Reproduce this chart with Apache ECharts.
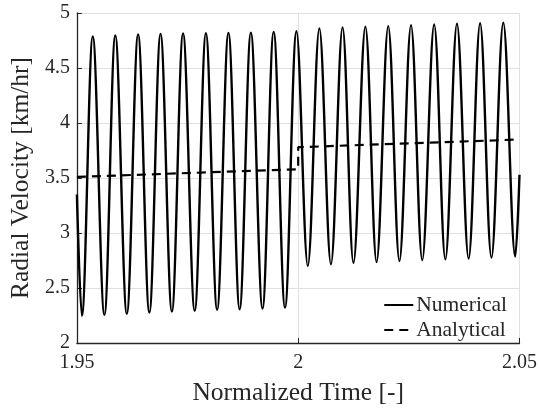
<!DOCTYPE html>
<html>
<head>
<meta charset="utf-8">
<script src="https://cdn.jsdelivr.net/npm/echarts@6/dist/echarts.min.js"></script>
<style>html,body{margin:0;padding:0;background:#fff}#c{width:540px;height:411px}</style>
</head>
<body>
<div id="c"></div>
<script>
// Values
var startPoint = [1.95, 3.35];
var endPoint = [2.05, 3.53];
var peakTimes = [1.95359, 1.95868, 1.96383, 1.96890, 1.97399, 1.97915, 1.98424, 1.98931, 1.99446, 1.99962,
                 2.00478, 2.01002, 2.01518, 2.02034, 2.02549, 2.03072, 2.03587, 2.04110, 2.04634];
var peakValues = [4.786, 4.795, 4.804, 4.810, 4.813, 4.816, 4.819, 4.822, 4.828, 4.834,
                  4.860, 4.869, 4.875, 4.881, 4.890, 4.896, 4.902, 4.907, 4.911];
var troughTimes = [1.95112, 1.95621, 1.96128, 1.96637, 1.97146, 1.97661, 1.98168, 1.98677, 1.99193, 1.99702,
                   2.00217, 2.00740, 2.01249, 2.01771, 2.02287, 2.02803, 2.03325, 2.03850, 2.04366, 2.04904];
var troughValues = [2.248, 2.256, 2.265, 2.277, 2.286, 2.292, 2.301, 2.307, 2.313, 2.322,
                    2.701, 2.716, 2.728, 2.737, 2.746, 2.754, 2.760, 2.767, 2.776, 2.785];
var analyticalTimes = [1.95, 2.0, 2.0, 2.05];
var analyticalValues = [3.51, 3.58, 3.78, 3.85];
var xTicks = [1.95, 2, 2.05];
var yTicks = [2, 2.5, 3, 3.5, 4, 4.5, 5];
var seriesNames = ['Numerical', 'Analytical'];

var numerical = [startPoint];
peakTimes.forEach(function (t, i) { numerical.push([t, peakValues[i]]); });
troughTimes.forEach(function (t, i) { numerical.push([t, troughValues[i]]); });
numerical.push(endPoint);
numerical.sort(function (a, b) { return a[0] - b[0]; });
var analytical = analyticalTimes.map(function (t, i) { return [t, analyticalValues[i]]; });

var font = '"Liberation Serif", "DejaVu Serif", serif';
var ink = '#262626';
var chart = echarts.init(document.getElementById('c'), null, {renderer: 'canvas'});
chart.setOption({
  animation: false,
  backgroundColor: '#fff',
  grid: {left: 73.5, right: 20, top: 13, bottom: 60, containLabel: false},
  legend: {
    orient: 'vertical', right: 28, top: 289, itemWidth: 29, itemHeight: 12, itemGap: 3,
    textStyle: {fontFamily: font, fontSize: 21.5, color: ink, padding: [0, 0, 0, -2]},
    itemStyle: {opacity: 0},
    data: seriesNames
  },
  xAxis: {
    type: 'value', min: 1.95, max: 2.05, interval: 0.05,
    name: 'Normalized Time [-]', nameLocation: 'middle', nameGap: 37,
    nameTextStyle: {fontFamily: font, fontSize: 25.5, color: ink},
    axisLine: {show: true, onZero: false, lineStyle: {color: ink, width: 1.3}},
    axisTick: {show: true, inside: true, length: 5, lineStyle: {color: ink}},
    axisLabel: {fontFamily: font, fontSize: 20, color: ink, margin: 10,
      customValues: xTicks,
      formatter: function (v) { var r = Math.round(v * 100) / 100; return String(r); }},
    splitLine: {show: true, lineStyle: {color: '#e0e0e0', width: 1}}
  },
  yAxis: {
    type: 'value', min: 2, max: 5, interval: 0.5,
    name: 'Radial Velocity [km/hr]', nameLocation: 'middle', nameGap: 38,
    nameTextStyle: {fontFamily: font, fontSize: 25.5, color: ink},
    axisLine: {show: true, onZero: false, lineStyle: {color: ink, width: 1.3}},
    axisTick: {show: true, inside: true, length: 5, lineStyle: {color: ink}},
    axisLabel: {fontFamily: font, fontSize: 20, color: ink, margin: 7,
      formatter: function (v) { return String(Math.round(v * 10) / 10); }},
    splitLine: {show: true, lineStyle: {color: '#e0e0e0', width: 1}}
  },
  series: [
    {name: seriesNames[0], type: 'line', data: numerical, smooth: 0.36, symbol: 'none', symbolSize: 0,
     lineStyle: {color: '#000', width: 2.4}, itemStyle: {color: '#000'}, z: 3},
    {name: seriesNames[1], type: 'line', data: analytical, symbol: 'none', symbolSize: 0,
     lineStyle: {color: '#000', width: 2.2, type: [9, 6]}, itemStyle: {color: '#000'}, z: 2}
  ]
});
</script>
</body>
</html>
